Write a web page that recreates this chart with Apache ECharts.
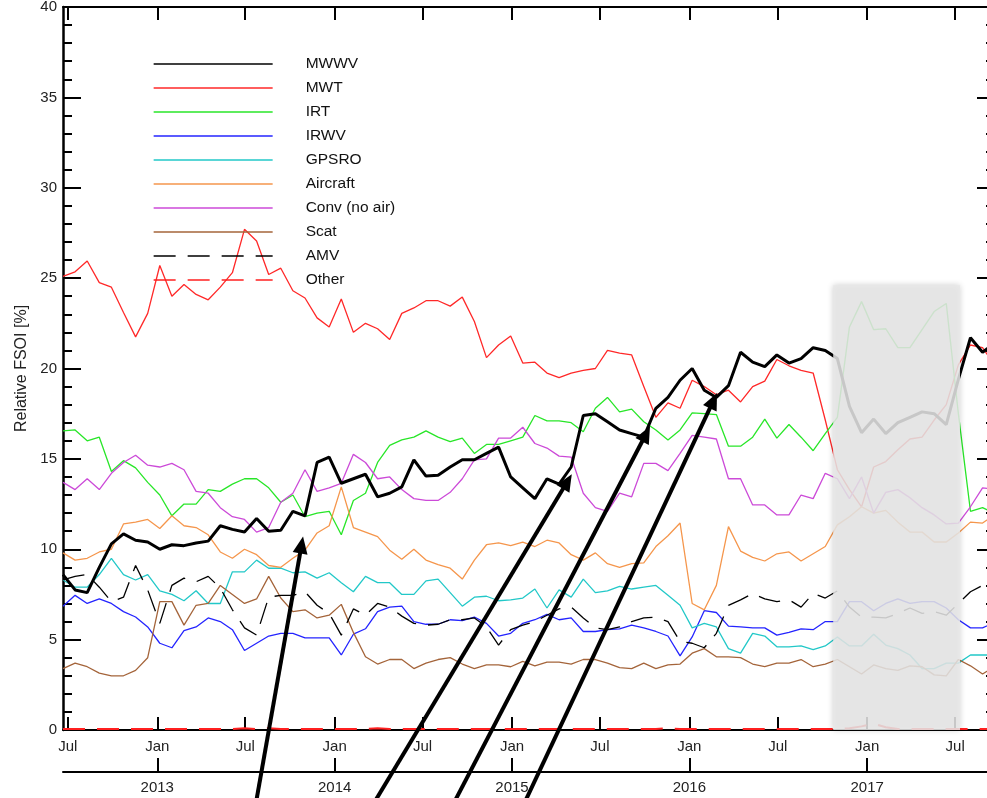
<!DOCTYPE html>
<html><head><meta charset="utf-8">
<script src="https://cdn.jsdelivr.net/npm/echarts@6/dist/echarts.min.js"></script>
<style>html,body{margin:0;padding:0;background:#fff}#c{width:987px;height:798px}</style>
</head><body><div id="c"></div><script>
// ---- data ----
const seriesNames = ['MWWV','MWT','IRT','IRWV','GPSRO','Aircraft','Conv (no air)','Scat','AMV','Other'];
const startDate = '2012-06-21';
const stepDays = 24.9;
const mwwv = [8.6,7.75,7.6,9.0,10.3,10.85,10.5,10.4,10.0,10.25,
 10.2,10.35,10.45,11.3,11.1,10.95,11.7,11.0,11.05,12.1,
 11.85,14.8,15.1,13.65,13.9,14.15,12.9,13.1,13.45,14.95,
 14.05,14.1,14.55,14.95,14.95,15.3,15.65,14.0,13.4,12.8,
 13.9,13.6,14.55,17.4,17.5,17.05,16.6,16.4,16.2,17.8,
 18.4,19.35,20.0,18.8,18.4,19.05,20.9,20.35,20.1,20.75,
 20.3,20.55,21.15,21.0,20.55,17.9,16.45,17.2,16.4,17.0,
 17.3,17.6,17.5,16.9,19.4,21.7,20.9,21.4];
const mwt = [25.1,25.35,25.95,24.75,24.5,23.1,21.75,23.05,25.7,24.0,
 24.65,24.1,23.8,24.5,25.3,27.7,27.05,25.2,25.55,24.3,
 23.9,22.8,22.3,23.85,22.0,22.5,22.2,21.6,23.05,23.35,
 23.75,23.75,23.45,23.95,22.6,20.6,21.3,21.8,20.3,20.35,
 19.75,19.5,19.75,19.9,20.0,21.0,20.85,20.75,19.0,17.3,
 18.1,17.8,19.35,19.0,18.55,18.8,18.15,19.0,19.3,20.5,
 20.15,19.9,19.75,17.15,14.4,13.3,12.35,14.55,14.85,15.5,
 16.1,16.2,17.15,18.0,20.2,21.3,21.15,20.2];
const irt = [16.55,16.6,16.0,16.2,14.3,14.9,14.5,13.7,13.0,11.85,
 12.5,12.5,13.3,13.2,13.6,13.9,13.9,13.4,12.6,13.0,
 11.8,12.0,12.1,10.8,12.7,13.1,14.8,15.75,16.05,16.2,
 16.55,16.2,15.95,16.15,15.3,15.8,15.8,16.0,16.2,17.4,
 17.1,17.1,17.0,16.5,17.8,18.4,17.6,17.75,17.05,16.6,
 16.05,16.6,17.55,17.5,17.45,15.7,15.7,16.2,17.2,16.15,
 16.9,16.2,15.45,16.4,17.3,22.3,23.7,22.15,22.2,21.15,
 21.15,22.15,23.15,23.6,17.5,12.1,12.3,12.0];
const irwv = [6.85,7.45,7.0,7.25,7.0,6.55,6.25,5.7,4.8,4.55,
 5.5,5.7,6.2,6.0,5.55,4.4,4.8,5.2,5.35,5.35,
 5.1,5.1,5.1,4.15,5.3,5.6,6.55,6.8,6.85,6.0,
 5.85,5.85,6.1,6.05,6.25,5.9,5.2,5.35,5.9,6.1,
 6.4,6.1,6.2,5.45,5.45,5.55,5.6,5.8,5.65,5.45,
 5.2,4.1,5.15,6.6,6.5,5.75,5.7,5.65,5.65,5.25,
 5.4,5.6,5.55,6.0,6.0,7.1,7.1,6.6,7.0,7.25,
 7.0,7.1,7.1,6.75,6.1,5.65,5.65,5.95];
const gpsro = [8.3,7.9,7.9,8.6,9.5,8.6,8.3,8.6,7.7,7.5,
 7.15,7.7,7.0,7.0,8.75,8.75,9.4,8.95,8.95,8.7,
 8.75,8.4,8.7,8.15,7.65,8.5,8.15,8.15,7.5,7.5,
 8.25,8.35,7.6,6.85,7.35,7.4,7.15,7.2,7.3,7.8,
 6.75,7.75,7.35,8.35,7.6,7.7,7.95,7.8,7.9,8.0,
 7.45,6.9,5.65,5.9,5.7,4.5,4.25,5.35,5.2,4.6,
 4.6,4.65,4.45,4.65,5.15,4.65,4.65,5.3,4.7,4.5,
 4.15,3.4,3.4,3.7,3.7,4.15,4.15,4.15];
const aircraft = [9.8,9.4,9.5,9.85,10.0,11.4,11.5,11.65,11.15,11.85,
 11.3,11.2,10.8,9.85,9.5,10.0,9.7,9.1,9.0,9.5,
 9.95,10.9,11.3,13.45,11.2,10.95,10.7,9.95,9.45,10.0,
 9.4,9.15,8.95,8.35,9.4,10.25,10.35,10.2,10.4,10.15,
 10.5,10.35,9.7,9.4,9.8,9.2,9.0,9.2,9.25,10.15,
 10.75,11.45,7.0,6.65,8.0,11.25,9.9,9.55,9.35,9.75,
 9.85,9.35,9.75,10.15,11.35,11.8,12.35,12.0,12.15,11.5,
 10.95,10.95,10.4,10.4,10.9,11.5,11.45,11.9];
const conv = [13.7,13.3,13.9,13.3,14.2,14.8,15.2,14.65,14.55,14.75,
 14.4,13.2,13.1,12.3,11.8,11.65,10.95,11.2,12.6,13.1,
 14.4,13.2,13.4,13.65,15.25,14.8,13.9,14.0,13.3,12.8,
 12.7,12.7,13.15,13.9,14.95,15.0,16.15,16.15,16.75,15.85,
 15.6,15.15,15.1,13.1,12.3,12.1,13.1,12.9,14.75,14.75,
 14.35,15.3,16.3,16.2,16.1,13.9,13.9,12.45,12.45,11.9,
 11.9,13.0,12.8,14.2,13.9,12.8,14.0,12.0,13.15,13.3,
 12.85,12.3,11.9,11.4,11.45,12.35,13.4,13.3];
const scat = [3.4,3.7,3.5,3.15,3.0,3.0,3.3,4.0,7.1,7.1,
 5.8,6.9,7.0,8.0,7.5,7.0,7.25,8.5,7.3,6.55,
 6.65,6.2,6.35,6.95,5.4,4.05,3.65,3.9,3.9,3.4,
 3.7,3.9,4.0,3.65,3.4,3.6,3.6,3.5,3.8,3.55,
 3.75,3.75,3.65,3.9,3.9,3.7,3.45,3.4,3.7,3.4,
 3.6,3.65,4.25,4.5,4.05,4.05,4.0,3.65,3.5,3.7,
 3.7,3.9,3.5,3.65,3.9,3.5,3.1,3.6,3.4,3.3,
 3.55,3.5,3.05,3.0,3.9,3.55,3.1,3.5];
const amv = [8.3,8.5,8.6,7.9,7.1,7.35,9.1,7.75,5.9,8.0,
 8.4,8.2,8.5,7.85,6.65,5.65,5.25,7.35,7.45,7.45,
 7.65,6.9,6.45,5.25,6.7,6.35,7.0,6.8,6.3,5.9,
 5.8,5.85,6.1,6.1,6.2,5.7,4.7,5.55,5.8,6.0,
 6.35,6.7,6.8,6.2,5.65,5.55,5.7,6.0,6.2,6.25,
 6.0,4.9,4.8,4.55,5.35,6.9,7.2,7.55,7.25,7.1,
 7.2,6.8,7.55,7.3,7.7,6.8,6.25,6.25,6.2,6.45,
 6.75,6.45,6.55,6.35,7.0,7.65,8.0,8.1];
const other = [0.05,0.05,0.05,0.05,0.05,0.05,0.05,0.05,0.05,0.05,
 0.05,0.05,0.05,0.05,0.05,0.1,0.05,0.1,0.05,0.05,
 0.05,0.05,0.05,0.05,0.05,0.05,0.1,0.05,0.05,0.05,
 0.05,0.05,0.05,0.05,0.05,0.05,0.05,0.05,0.05,0.05,
 0.05,0.05,0.05,0.05,0.05,0.05,0.05,0.05,0.05,0.05,
 0.1,0.05,0.05,0.05,0.05,0.05,0.05,0.05,0.05,0.05,
 0.05,0.05,0.05,0.05,0.05,0.1,0.2,0.35,0.15,0.05,
 0.05,0.05,0.05,0.05,0.05,0.05,0.05,0.05];
const monthTicks = ['2012-07-01','2013-01-01','2013-07-01','2014-01-01','2014-07-01','2015-01-01','2015-07-01','2016-01-01','2016-07-01','2017-01-01','2017-07-01'];
const yearTicks = ['2013-01-01','2014-01-01','2015-01-01','2016-01-01','2017-01-01'];
const axisStart = '2012-06-21';
const axisEnd = '2017-09-21';
const shade = ['2016-10-23','2017-07-11', 24.6];
const arrowTails = [['2013-07-24',-3.9],['2014-03-26',-3.9],['2014-09-06',-3.9],['2015-01-29',-3.9]];
const arrowTips = [['2013-10-28',10.7],['2015-05-04',14.15],['2015-10-12',16.8],['2016-02-27',18.65]];

// ---- build ----
const t = s => new Date(s).getTime();
const t0 = t(startDate);
const dates = mwwv.map((_, i) => t0 + i * stepDays * 86400000);
const pair = arr => arr.map((v, i) => [dates[i], v]);
const FONT = "'Liberation Sans', Arial, Helvetica, sans-serif";
const mTicks = monthTicks.map(t), yTicks = yearTicks.map(t);

const styles = [
  {color:'#000000', width:3, type:'solid', z:4},
  {color:'#ff2828', width:1.3, type:'solid'},
  {color:'#28e628', width:1.3, type:'solid'},
  {color:'#2424ff', width:1.3, type:'solid'},
  {color:'#22c8c8', width:1.3, type:'solid'},
  {color:'#f5964c', width:1.3, type:'solid'},
  {color:'#cc4ad8', width:1.3, type:'solid'},
  {color:'#a4643a', width:1.3, type:'solid'},
  {color:'#000000', width:1.3, type:[22,12]},
  {color:'#ff2020', width:2, type:[22,12]}
];
const values = [mwwv, mwt, irt, irwv, gpsro, aircraft, conv, scat, amv, other];

const lineSeries = seriesNames.map((n, i) => ({
  name: n, type: 'line', data: pair(values[i]), showSymbol: false, symbol: 'none',
  color: styles[i].color, z: styles[i].z || 3,
  lineStyle: {color: styles[i].color, width: styles[i].width, type: styles[i].type},
  animation: false
}));

const shadeSeries = {
  type: 'custom', z: 20, silent: true, animation: false,
  encode: {x: [0, 1], y: 2},
  data: [[t(shade[0]), t(shade[1]), shade[2]]],
  renderItem(params, api) {
    const p0 = api.coord([api.value(0), api.value(2)]);
    const p1 = api.coord([api.value(1), 0]);
    return {type: 'rect', shape: {x: p0[0], y: p0[1], width: p1[0]-p0[0], height: p1[1]-p0[1]},
      style: {fill: 'rgba(232,232,232,0.86)', shadowBlur: 6, shadowColor: 'rgba(0,0,0,0.22)'}};
  }
};

const arrowSeries = {
  type: 'custom', z: 30, silent: true, animation: false,
  encode: {x: [0, 2], y: [1, 3]},
  data: arrowTips.map((tip, i) => [t(arrowTails[i][0]), arrowTails[i][1], t(tip[0]), tip[1]]),
  renderItem(params, api) {
    const a = api.coord([api.value(0), api.value(1)]);
    const b = api.coord([api.value(2), api.value(3)]);
    const dx = b[0]-a[0], dy = b[1]-a[1];
    const len = Math.hypot(dx, dy), ux = dx/len, uy = dy/len;
    const hl = 17, hw = 7.5;
    const base = [b[0]-ux*hl, b[1]-uy*hl];
    const nx = -uy, ny = ux;
    return {type: 'group', children: [
      {type: 'line', shape: {x1: a[0], y1: a[1], x2: base[0]+ux*3, y2: base[1]+uy*3}, style: {stroke: '#000', lineWidth: 4}},
      {type: 'polygon', shape: {points: [b, [base[0]+nx*hw, base[1]+ny*hw], [base[0]-nx*hw, base[1]-ny*hw]]}, style: {fill: '#000'}}
    ]};
  }
};

const tickStyle = {color: '#000', width: 2};
const monthFmt = v => new Date(v).getUTCMonth() === 0 ? 'Jan' : 'Jul';
const yearFmt = v => String(new Date(v).getUTCFullYear());
const xBase = {type: 'value', min: t(axisStart), max: t(axisEnd), scale: true, splitLine: {show: false}, minorTick: {show: false}};

const option = {
  animation: false,
  textStyle: {fontFamily: FONT},
  grid: {left: 63, width: 932, top: 7, height: 723, containLabel: false, outerBoundsMode: 'none'},
  legend: {
    data: seriesNames, orient: 'vertical', left: 153, top: 56, padding: 0,
    itemWidth: 119, itemHeight: 14, itemGap: 8, selectedMode: false,
    textStyle: {fontSize: 15.5, color: '#111', fontFamily: FONT, padding: [0, 0, 0, 28]},
    itemStyle: {opacity: 0, borderWidth: 0},
    lineStyle: {width: 1.3}
  },
  xAxis: [
    Object.assign({}, xBase, {position: 'bottom',
     axisLine: {show: true, onZero: false, lineStyle: {color: '#000', width: 2}},
     axisTick: {show: true, inside: true, length: 13, lineStyle: tickStyle, customValues: mTicks},
     axisLabel: {show: true, customValues: mTicks, formatter: monthFmt, fontSize: 15, color: '#222', margin: 9, fontFamily: FONT}}),
    Object.assign({}, xBase, {position: 'bottom', offset: 42,
     axisLine: {show: true, onZero: false, lineStyle: {color: '#000', width: 2}},
     axisTick: {show: true, inside: true, length: 14, lineStyle: tickStyle, customValues: yTicks},
     axisLabel: {show: true, customValues: yTicks, formatter: yearFmt, fontSize: 15, color: '#222', margin: 8, fontFamily: FONT}}),
    Object.assign({}, xBase, {position: 'top',
     axisLine: {show: true, onZero: false, lineStyle: {color: '#000', width: 2}},
     axisTick: {show: true, inside: true, length: 13, lineStyle: tickStyle, customValues: mTicks},
     axisLabel: {show: false}})
  ],
  yAxis: [
    {type: 'value', min: 0, max: 40, interval: 5, position: 'left',
     name: 'Relative FSOI [%]', nameLocation: 'middle', nameGap: 33, nameRotate: 90,
     nameTextStyle: {fontSize: 16, color: '#222', fontFamily: FONT},
     axisLine: {show: true, onZero: false, lineStyle: {color: '#000', width: 2.5}},
     axisTick: {show: true, inside: true, length: 18, lineStyle: tickStyle},
     minorTick: {show: true, splitNumber: 5, length: 9, lineStyle: tickStyle},
     axisLabel: {fontSize: 15, color: '#222', margin: 6, fontFamily: FONT},
     splitLine: {show: false}},
    {type: 'value', min: 0, max: 40, interval: 5, position: 'right',
     axisLine: {show: true, onZero: false, lineStyle: {color: '#000', width: 2.5}},
     axisTick: {show: true, inside: true, length: 18, lineStyle: tickStyle},
     minorTick: {show: true, splitNumber: 5, length: 9, lineStyle: tickStyle},
     axisLabel: {show: false},
     splitLine: {show: false}}
  ],
  series: [...lineSeries, shadeSeries, arrowSeries]
};

const chart = echarts.init(document.getElementById('c'), null, {renderer: 'canvas'});
chart.setOption(option);
</script></body></html>
